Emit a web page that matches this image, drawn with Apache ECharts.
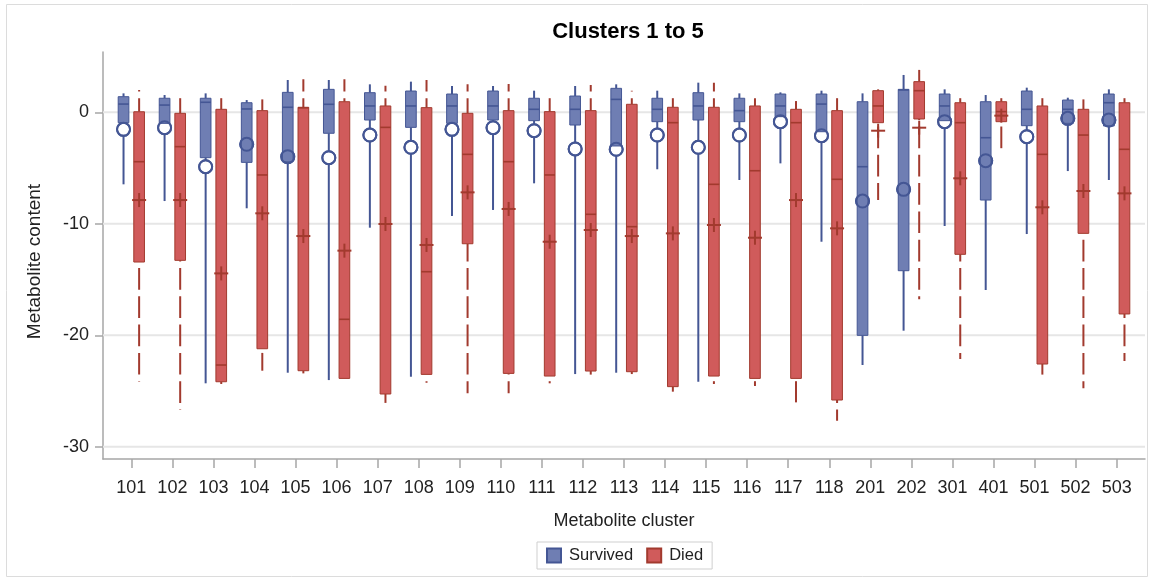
<!DOCTYPE html>
<html>
<head>
<meta charset="utf-8">
<script src="https://cdn.jsdelivr.net/npm/echarts@6/dist/echarts.min.js"></script>
<style>
  html, body { margin: 0; padding: 0; background: #fff; }
  #chart { width: 1149px; height: 578px; }
</style>
</head>
<body>
<div id="chart"></div>
<script>
// Metabolite clusters on the x axis
const clusters = ['101', '102', '103', '104', '105', '106', '107', '108', '109', '110', '111', '112',
  '113', '114', '115', '116', '117', '118', '201', '202', '301', '401', '501', '502', '503'];

// Survived group: box statistics per cluster
const survivedLow    = [-6.46, -7.96, -24.31, -8.61, -23.36, -24.02, -10.35, -23.72, -9.30, -8.76, -6.37, -23.48, -23.36, -5.11, -24.17, -6.07, -4.58, -11.61, -22.67, -19.59, -10.20, -15.94, -10.92, -5.27, -6.07];
const survivedQ1     = [-0.93, -0.99, -4.07, -4.49, -4.43, -1.88, -0.69, -1.35, -0.99, -0.69, -0.75, -1.14, -3.02, -0.84, -0.69, -0.84, -0.39, -1.74, -20.01, -14.21, -0.75, -7.87, -1.20, -0.99, -1.23];
const survivedMedian = [0.74, 0.65, 0.90, 0.30, 0.45, 0.72, 0.57, 0.57, 0.57, 0.57, 0.27, 0.27, 1.16, 0.27, 0.57, 0.15, 0.57, 0.74, -4.88, 2.00, 0.57, -2.28, 0.27, 0.27, 0.86];
const survivedQ3     = [1.40, 1.26, 1.26, 0.86, 1.79, 2.06, 1.76, 1.91, 1.64, 1.91, 1.26, 1.46, 2.15, 1.26, 1.76, 1.26, 1.64, 1.64, 0.95, 2.06, 1.64, 0.95, 1.91, 1.10, 1.64];
const survivedHigh   = [1.70, 1.55, 1.70, 1.10, 2.90, 2.90, 2.51, 2.75, 2.36, 2.36, 1.94, 2.36, 2.51, 1.94, 2.66, 1.70, 1.79, 1.94, 1.70, 3.35, 2.06, 1.55, 2.21, 1.31, 2.06];
const survivedMean   = [-1.53, -1.38, -4.88, -2.87, -3.98, -4.07, -2.04, -3.14, -1.53, -1.38, -1.65, -3.29, -3.32, -2.04, -3.14, -2.04, -0.84, -2.10, -7.96, -6.91, -0.84, -4.34, -2.19, -0.54, -0.69];

// Died group: box statistics per cluster
const diedLow    = [-24.17, -26.71, -24.37, -23.18, -23.42, -24.08, -26.56, -24.26, -25.21, -25.21, -24.31, -23.87, -23.48, -25.06, -24.37, -24.55, -26.02, -27.66, -7.87, -16.78, -22.13, -3.38, -24.02, -24.76, -22.31];
const diedQ1     = [-13.43, -13.28, -24.17, -21.21, -23.18, -23.87, -25.27, -23.51, -11.79, -23.42, -23.66, -23.21, -23.27, -24.61, -23.66, -23.87, -23.87, -25.81, -0.93, -0.60, -12.74, -0.84, -22.58, -10.86, -18.09];
const diedMedian = [-4.43, -3.08, -22.67, -5.62, 0.40, -18.57, -1.35, -14.30, -3.77, -4.43, -5.62, -9.15, -10.26, -0.93, -6.46, -5.24, -0.93, -6.01, 0.57, 1.94, -0.93, 0.06, -3.77, -2.04, -3.32];
const diedQ3     = [0.05, -0.09, 0.27, 0.15, 0.45, 0.95, 0.57, 0.42, -0.09, 0.15, 0.06, 0.15, 0.72, 0.45, 0.45, 0.57, 0.27, 0.15, 1.94, 2.75, 0.86, 0.95, 0.57, 0.27, 0.86];
const diedHigh   = [2.00, 1.85, 1.46, 1.16, 2.96, 2.96, 2.39, 2.90, 2.51, 2.54, 1.85, 2.45, 1.94, 1.70, 2.66, 1.26, 1.01, 1.85, 2.06, 4.15, 1.46, 1.31, 1.58, 1.16, 1.85];
const diedMean   = [-7.87, -7.87, -14.45, -9.06, -11.10, -12.41, -10.02, -11.90, -7.18, -8.67, -11.61, -10.56, -11.10, -10.86, -10.11, -11.25, -7.87, -10.41, -1.65, -1.38, -5.92, -0.30, -8.52, -7.06, -7.27];

// Value-axis ticks
const yTicks = [-30, -20, -10, 0];

const FONT = '"Liberation Sans", Arial, sans-serif';
const SURV_FILL = '#6F7EB3', SURV_LINE = '#445694';
const DIED_FILL = '#D05B5B', DIED_LINE = '#A23A2E';
const BOX_WIDTH = 0.26;   // in category units
const GROUP_OFFSET = 0.19;
const DASH = 21.7, GAP = 6.6, PERIOD = DASH + GAP, PHASE = 13.3;

function buildRows(low, q1, med, q3, high, mean) {
  return clusters.map((c, i) => [i, low[i], q1[i], med[i], q3[i], high[i], mean[i]]);
}

// Vertical whisker; dashed whiskers share one dash phase along the page
function whisker(cx, yA, yB, color, dashed) {
  const top = Math.min(yA, yB), bot = Math.max(yA, yB);
  const style = { stroke: color, lineWidth: 2, fill: null };
  if (dashed) {
    style.lineDash = [DASH, GAP];
    style.lineDashOffset = (((top - PHASE) % PERIOD) + PERIOD) % PERIOD;
  }
  return { type: 'line', shape: { x1: cx, y1: top, x2: cx, y2: bot }, style: style };
}

function makeBoxRenderer(offset, fill, line, dashed, marker) {
  return function (params, api) {
    const xv = api.value(0) + offset;
    const cx = api.coord([xv, 0])[0];
    const yLow = api.coord([xv, api.value(1)])[1];
    const yQ1 = api.coord([xv, api.value(2)])[1];
    const yMed = api.coord([xv, api.value(3)])[1];
    const yQ3 = api.coord([xv, api.value(4)])[1];
    const yHigh = api.coord([xv, api.value(5)])[1];
    const yMean = api.coord([xv, api.value(6)])[1];
    const half = api.size([BOX_WIDTH, 0])[0] / 2;
    const children = [];
    children.push(whisker(cx, yQ1, yLow, line, dashed));
    children.push(whisker(cx, yHigh, yQ3, line, dashed));
    if (marker === 'circle') {
      // white disc under the box, so the part outside the box reads as hollow
      children.push({ type: 'circle', shape: { cx: cx, cy: yMean, r: 6.5 },
        style: { fill: '#fff', stroke: line, lineWidth: 2 } });
    }
    children.push({ type: 'rect',
      shape: { x: cx - half, y: yQ3, width: half * 2, height: yQ1 - yQ3 },
      style: { fill: fill, stroke: line, lineWidth: 1 } });
    children.push({ type: 'line',
      shape: { x1: cx - half, y1: yMed, x2: cx + half, y2: yMed },
      style: { stroke: line, lineWidth: 1.6 } });
    if (marker === 'circle') {
      children.push({ type: 'circle', shape: { cx: cx, cy: yMean, r: 6.5 },
        style: { fill: null, stroke: line, lineWidth: 2 } });
    } else {
      children.push({ type: 'line', shape: { x1: cx - 7, y1: yMean, x2: cx + 7, y2: yMean },
        style: { stroke: line, lineWidth: 2 } });
      children.push({ type: 'line', shape: { x1: cx, y1: yMean - 7, x2: cx, y2: yMean + 7 },
        style: { stroke: line, lineWidth: 2 } });
    }
    return { type: 'group', children: children };
  };
}

function renderGridLine(params, api) {
  const y = api.coord([0, api.value(1)])[1];
  const cs = params.coordSys;
  return { type: 'line', silent: true,
    shape: { x1: cs.x, y1: y, x2: cs.x + cs.width, y2: y },
    style: { stroke: '#e6e6e6', lineWidth: 2 } };
}

const chart = echarts.init(document.getElementById('chart'), null, { renderer: 'canvas' });

chart.setOption({
  animation: false,
  backgroundColor: '#ffffff',
  textStyle: { fontFamily: FONT },
  graphic: [
    { type: 'rect', z: -10, silent: true,
      shape: { x: 6.5, y: 4.5, width: 1141, height: 572 },
      style: { fill: null, stroke: '#dcdcdc', lineWidth: 1 } },
    { type: 'text', x: 628, y: 32, silent: true,
      style: { text: 'Clusters 1 to 5', align: 'center', verticalAlign: 'middle',
        font: 'bold 22px ' + FONT, fill: '#000' } }
  ],
  legend: {
    data: ['Survived', 'Died'],
    left: 537, top: 542,
    orient: 'horizontal',
    padding: [5, 9, 5, 9],
    itemWidth: 14, itemHeight: 14, itemGap: 13,
    icon: 'rect',
    borderColor: '#cfcfcf', borderWidth: 1,
    textStyle: { fontSize: 16.5, color: '#222', fontFamily: FONT, padding: [0, 0, 0, 3] },
    selectedMode: false
  },
  grid: { left: 103, right: 4, top: 52, bottom: 119, containLabel: false },
  xAxis: {
    type: 'value', min: -0.69, max: 24.69,
    name: 'Metabolite cluster', nameLocation: 'middle', nameGap: 53,
    nameTextStyle: { fontSize: 18, color: '#222', fontFamily: FONT },
    axisLine: { show: true, onZero: false, lineStyle: { color: '#a6a6a6', width: 1.5 } },
    axisTick: { show: true, length: 9, customValues: clusters.map((c, i) => i),
      lineStyle: { color: '#a6a6a6', width: 1.5 } },
    axisLabel: { customValues: clusters.map((c, i) => i), margin: 20, fontSize: 18, color: '#222',
      formatter: v => clusters[Math.round(v)] || '' },
    splitLine: { show: false }
  },
  yAxis: {
    type: 'value', min: -31.1, max: 5.41,
    name: 'Metabolite content', nameLocation: 'middle', nameGap: 59,
    nameTextStyle: { fontSize: 19, color: '#222', fontFamily: FONT, padding: [0, 12, 0, 0] },
    axisLine: { show: true, onZero: false, lineStyle: { color: '#a6a6a6', width: 1.5 } },
    axisTick: { show: true, length: 8, customValues: yTicks,
      lineStyle: { color: '#a6a6a6', width: 1.5 } },
    axisLabel: { customValues: yTicks, margin: 14, fontSize: 18, color: '#222' },
    splitLine: { show: false }
  },
  series: [
    { type: 'custom', name: 'grid', silent: true, z: 1,
      data: yTicks.map(v => [0, v]), encode: { x: 0, y: 1 },
      renderItem: renderGridLine },
    { type: 'custom', name: 'Survived', z: 3,
      itemStyle: { color: SURV_FILL, borderColor: SURV_LINE, borderWidth: 1 },
      data: buildRows(survivedLow, survivedQ1, survivedMedian, survivedQ3, survivedHigh, survivedMean),
      encode: { x: 0, y: [1, 2, 3, 4, 5, 6] },
      renderItem: makeBoxRenderer(-GROUP_OFFSET, SURV_FILL, SURV_LINE, false, 'circle') },
    { type: 'custom', name: 'Died', z: 3,
      itemStyle: { color: DIED_FILL, borderColor: DIED_LINE, borderWidth: 1 },
      data: buildRows(diedLow, diedQ1, diedMedian, diedQ3, diedHigh, diedMean),
      encode: { x: 0, y: [1, 2, 3, 4, 5, 6] },
      renderItem: makeBoxRenderer(GROUP_OFFSET, DIED_FILL, DIED_LINE, true, 'plus') }
  ]
});
</script>
</body>
</html>
